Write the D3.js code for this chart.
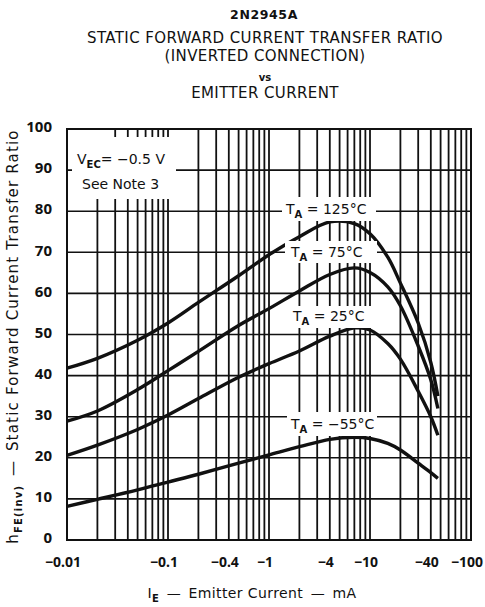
<!DOCTYPE html>
<html>
<head>
<meta charset="utf-8">
<script src="https://cdn.jsdelivr.net/npm/d3@7"></script>
<style>
  body { margin: 0; background: #fff; }
  text { font-family: "DejaVu Sans", sans-serif; fill: #111; }
  .tick { font-family: "Noto Sans", sans-serif; font-weight: bold; }
</style>
</head>
<body>
<div id="chart"></div>
<script>
// emitter current, mA (drawn as negative labels)
const current = [0.01, 0.02, 0.05, 0.1, 0.2, 0.5, 1, 2, 4, 7, 10, 15, 20, 30, 40, 47]
// hFE(inv)
const hfe125 = [41.8, 44.2, 48.6, 52.8, 57.8, 64.3, 69.4, 73.8, 77.4, 77.0, 74.5, 68.8, 62.5, 52.8, 43.2, 35]
const hfe75  = [28.9, 31.4, 36.6, 41.2, 45.9, 52.2, 56.3, 60.6, 64.6, 66.2, 65.1, 61.6, 57, 47.2, 39, 32]
const hfe25  = [20.6, 23.1, 26.9, 30.4, 34.4, 39.6, 42.9, 46.0, 49.6, 51.6, 51.1, 47.8, 44, 36.2, 30, 25.5]
const hfeM55 = [8.2, 9.9, 12.2, 14.1, 16.0, 18.7, 20.7, 22.7, 24.5, 25.0, 24.7, 23.5, 21.9, 18.7, 16.4, 15]

const xTicks = [0.01, 0.1, 0.4, 1, 4, 10, 40, 100]
const yTicks = [0, 10, 20, 30, 40, 50, 60, 70, 80, 90, 100]

const titles = ["STATIC FORWARD CURRENT TRANSFER RATIO", "(INVERTED CONNECTION)", "vs", "EMITTER CURRENT"]

const margin = {top: 129, right: 14, bottom: 67, left: 67},
    width = 485 - margin.left - margin.right,
    height = 607 - margin.top - margin.bottom;

const root = d3.select("#chart")
  .append("svg")
    .attr("width", 485)
    .attr("height", 607)

const svg = root.append("g")
    .attr("transform", `translate(${margin.left}, ${margin.top})`);

const x = d3.scaleLog().domain([0.01, 100]).range([0, width])
const y = d3.scaleLinear().domain([0, 100]).range([height, 0])

// titles
root.append("text")
  .attr("x", 264).attr("y", 19)
  .attr("text-anchor", "middle")
  .style("font-size", "12.5px").style("font-weight", "bold")
  .style("letter-spacing", "0.6px")
  .text("2N2945A")

const titleY = [43, 61, 81, 98]
titles.forEach((t, i) => {
  root.append("text")
    .attr("x", 265).attr("y", titleY[i])
    .attr("text-anchor", "middle")
    .style("font-size", t == "vs" ? "10px" : "15px")
    .style("font-weight", t == "vs" ? "bold" : "normal")
    .style("letter-spacing", t == "vs" ? "0px" : "0.4px")
    .text(t)
})

// grid
svg.append("g")
  .selectAll("line")
  .data(x.ticks())
  .enter()
  .append("line")
    .attr("x1", d => x(d)).attr("x2", d => x(d))
    .attr("y1", 0).attr("y2", height)
    .attr("stroke", "#111").attr("stroke-width", 1.8)

svg.append("g")
  .selectAll("line")
  .data(yTicks)
  .enter()
  .append("line")
    .attr("x1", 0).attr("x2", width)
    .attr("y1", d => y(d)).attr("y2", d => y(d))
    .attr("stroke", "#111").attr("stroke-width", 1.6)

svg.append("rect")
  .attr("width", width).attr("height", height)
  .attr("fill", "none").attr("stroke", "#111").attr("stroke-width", 2)

// tick labels
svg.append("g")
  .selectAll("text")
  .data(yTicks)
  .enter()
  .append("text")
    .attr("class", "tick")
    .attr("x", -15)
    .attr("y", d => y(d) - 2)
    .attr("dy", "0.35em")
    .attr("text-anchor", "end")
    .style("font-size", "15px")
    .text(d => d)

svg.append("g")
  .selectAll("text")
  .data(xTicks)
  .enter()
  .append("text")
    .attr("class", "tick")
    .attr("x", d => x(d) - 4)
    .attr("y", height + 27)
    .attr("text-anchor", "middle")
    .style("font-size", "14px")
    .text(d => "\u2212" + d)

// axis titles
const xl = svg.append("text")
  .attr("x", width / 2 - 17).attr("y", height + 58)
  .attr("text-anchor", "middle")
  .style("font-size", "14px")
  .style("letter-spacing", "0.4px")
xl.append("tspan").text("I")
xl.append("tspan").attr("dy", 4).style("font-size", "10px").style("font-weight", "bold").text("E")
xl.append("tspan").attr("dy", -4).text("\u2002\u2014\u2002Emitter Current\u2002\u2014\u2002mA")

const yl = svg.append("text")
  .attr("transform", `translate(-49, ${height / 2 + 2}) rotate(-90)`)
  .attr("text-anchor", "middle")
  .style("font-size", "15px")
  .style("letter-spacing", "1.2px")
yl.append("tspan").text("h")
yl.append("tspan").attr("dy", 4).style("font-size", "10px").style("font-weight", "bold").text("FE(inv)")
yl.append("tspan").attr("dy", -4).text("\u2002\u2014\u2002Static Forward Current Transfer Ratio")

// label boxes (white)
function box(x0, y0, w, h) {
  root.append("rect").attr("x", x0).attr("y", y0).attr("width", w).attr("height", h).attr("fill", "#fff")
}
box(72, 137, 104, 62)
box(72, 130, 32, 8)
box(282, 197, 94, 24)
box(285, 241, 92, 22)
box(288, 306, 86, 22)
box(287, 412, 90, 24)

// curves
const line = d3.line()
  .x((d, i) => x(current[i]))
  .y(d => y(d))
  .curve(d3.curveCatmullRom.alpha(0.5))

const series = [hfe125, hfe75, hfe25, hfeM55]
svg.selectAll(".curve")
  .data(series)
  .enter()
  .append("path")
    .attr("class", "curve")
    .attr("d", line)
    .attr("fill", "none")
    .attr("stroke", "#111")
    .attr("stroke-width", 3.4)
    .attr("stroke-linejoin", "round")

// annotations
const vec = root.append("text").attr("x", 77).attr("y", 164).style("font-size", "14px")
vec.append("tspan").text("V")
vec.append("tspan").attr("dy", 4).style("font-size", "10px").style("font-weight", "bold").text("EC")
vec.append("tspan").attr("dy", -4).text("= \u22120.5 V")
root.append("text").attr("x", 82).attr("y", 189).style("font-size", "14px").text("See Note 3")

function tLabel(x0, y0, deg) {
  const t = root.append("text").attr("x", x0).attr("y", y0).style("font-size", "14px")
  t.append("tspan").text("T")
  t.append("tspan").attr("dy", 4).style("font-size", "10px").style("font-weight", "bold").text("A")
  t.append("tspan").attr("dy", -4).text("  = " + deg + "\u00b0C")
}
tLabel(286, 214, "125")
tLabel(291, 257, "75")
tLabel(293, 321, "25")
tLabel(291, 429, "\u221255")
</script>
</body>
</html>
